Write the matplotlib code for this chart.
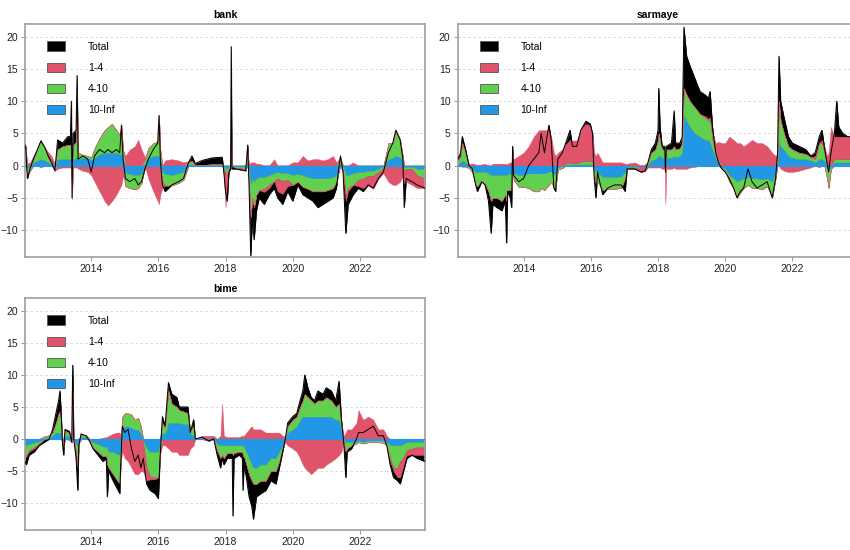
import numpy as np
import matplotlib
matplotlib.use('Agg')
import matplotlib.pyplot as plt
from matplotlib.patches import Patch

plt.rcParams['font.family'] = ['Liberation Sans', 'DejaVu Sans']

#~~~~~~~~~~~~~~~~~~~~~~~~~~~~~~~~~~~~~~~~~~~~~~~~~~~~~~~~~~~~~~~
# data (decimal years, contributions)
#~~~~~~~~~~~~~~~~~~~~~~~~~~~~~~~~~~~~~~~~~~~~~~~~~~~~~~~~~~~~~~~
labels = ['Total', '1-4', '4-10', '10-Inf']
xticks = [2014, 2016, 2018, 2020, 2022]
yticks = [-10, -5, 0, 5, 10, 15, 20]

bank_year = [2012.00, 2012.05, 2012.10, 2012.18, 2012.28, 2012.40, 2012.50, 2012.62, 2012.72, 2012.82,
             2012.92, 2013.00, 2013.15, 2013.30, 2013.38, 2013.41, 2013.43, 2013.46, 2013.55, 2013.58,
             2013.61, 2013.75, 2013.90, 2014.00, 2014.10, 2014.25, 2014.40, 2014.50, 2014.62, 2014.75,
             2014.85, 2014.90, 2014.95, 2015.02, 2015.15, 2015.30, 2015.40, 2015.50, 2015.60, 2015.70,
             2015.85, 2015.98, 2016.02, 2016.06, 2016.12, 2016.20, 2016.40, 2016.60, 2016.75, 2016.90,
             2017.00, 2017.10, 2017.30, 2017.60, 2017.90, 2017.95, 2018.00, 2018.05, 2018.10, 2018.15,
             2018.17, 2018.19, 2018.30, 2018.60, 2018.66, 2018.70, 2018.75, 2018.80, 2018.85, 2018.92,
             2019.00, 2019.15, 2019.30, 2019.45, 2019.55, 2019.70, 2019.85, 2020.00, 2020.15, 2020.30,
             2020.45, 2020.60, 2020.75, 2020.90, 2021.05, 2021.20, 2021.30, 2021.42, 2021.50, 2021.58,
             2021.65, 2021.80, 2021.95, 2022.10, 2022.25, 2022.40, 2022.55, 2022.70, 2022.85, 2022.98,
             2023.07, 2023.20, 2023.28, 2023.32, 2023.38, 2023.55, 2023.70, 2023.94]
bank_total = [3.5, 3.0, -2.0, -0.5, 1.0, 2.5, 3.8, 2.8, 1.5, 0.5,
              -0.8, 4.0, 3.5, 4.5, 4.5, 10.0, -5.0, 5.0, 5.5, 14.0,
              1.0, 1.5, 1.0, -1.0, 1.5, 2.5, 2.0, 2.5, 2.0, 2.5,
              2.0, 6.3, 1.0, -2.0, -2.5, -2.0, -3.0, -2.5, -0.5, 1.0,
              2.5, 3.5, 7.8, 1.0, -3.0, -4.0, -3.0, -2.5, -2.0, 0.5,
              1.5, 0.3, 0.8, 1.2, 1.3, -1.0, -4.0, -5.5, -1.0, -0.5,
              18.5, -0.5, -0.5, -0.8, 3.2, -3.0, -14.0, -8.0, -11.5, -7.0,
              -5.0, -6.0, -4.5, -3.5, -5.0, -6.0, -4.0, -5.5, -3.0, -4.5,
              -5.0, -5.5, -6.5, -6.0, -5.5, -5.0, -3.5, 1.5, -1.0, -10.5,
              -6.0, -4.5, -3.5, -4.0, -3.0, -3.5, -2.0, -1.0, 2.0, 3.5,
              5.5, 4.0, 1.0, -6.5, -2.0, -2.5, -3.0, -3.5]
bank_r14 = [0.3, 0.5, 0.3, 0.5, 0.5, 0.0, -0.3, 0.0, 0.8, 1.0,
            0.3, -0.5, -0.3, -0.3, -0.3, -0.3, -0.3, -0.3, -0.3, -0.3,
            -0.5, -0.8, -1.0, -1.5, -2.5, -4.0, -5.5, -6.2, -5.5, -4.5,
            -3.5, -3.0, -1.5, 1.5, 2.5, 3.0, 4.0, 2.5, 0.5, -2.0,
            -4.0, -5.5, -6.0, -4.5, -1.0, 0.8, 1.0, 0.8, 0.5, 0.2,
            0.0, 0.0, 0.0, 0.0, 0.0, -1.0, -5.5, -2.0, -0.3, 0.0,
            3.0, 0.0, -0.2, -0.2, 0.3, 0.0, 0.5, 0.5, 0.5, 0.3,
            0.3, -0.5, -0.5, 1.0, -2.0, -2.0, -1.0, 0.5, 0.5, 1.5,
            0.8, 1.0, 1.0, 0.8, 1.0, 1.5, 0.5, 0.0, -0.5, -1.0,
            -0.5, 0.5, -1.0, -1.5, -1.5, -2.0, -1.0, -0.8, -2.5, -3.0,
            -3.0, -2.5, -1.5, -2.0, -2.0, -2.5, -2.0, -1.5]
bank_g410 = [1.8, 1.5, -1.0, -0.5, 0.5, 2.0, 3.0, 2.0, 0.8, 0.2,
             -0.5, 1.5, 2.0, 2.2, 2.2, 2.5, -4.5, 2.2, 2.5, 10.0,
             1.0, 0.5, 0.3, 0.3, 1.5, 2.5, 3.5, 4.0, 4.5, 3.5,
             3.0, 4.5, 1.5, -2.0, -2.2, -2.2, -2.0, -1.5, 0.5, 1.5,
             2.0, 2.2, 6.3, 1.5, -1.5, -1.8, -1.6, -1.5, -1.2, 0.3,
             0.5, 0.1, 0.1, 0.1, 0.2, -0.3, -0.5, -1.0, -0.3, 0.0,
             5.0, 0.0, -0.2, -0.3, 1.5, -2.0, -5.0, -3.0, -4.0, -2.5,
             -2.0, -1.8, -1.5, -1.2, -1.0, -1.2, -1.0, -1.5, -1.2, -1.8,
             -1.8, -2.0, -2.0, -2.0, -1.8, -1.7, -1.0, 1.0, -0.5, -3.0,
             -2.0, -1.8, -1.2, -1.0, -0.8, -0.8, -0.5, -0.2, 2.5, 2.3,
             4.0, 2.7, 1.0, -0.5, -0.3, -0.3, -1.0, -1.5]
bank_b10 = [1.0, 0.8, -0.5, -0.3, 0.5, 0.8, 1.0, 0.8, 0.5, 0.3,
            -0.3, 1.0, 1.0, 1.0, 1.0, 1.0, -0.5, 1.0, 1.2, 1.5,
            1.0, 1.2, 1.2, 1.0, 1.2, 1.8, 2.0, 2.0, 2.0, 2.0,
            1.8, 1.8, 1.0, -1.2, -1.3, -1.5, -1.5, -1.2, 0.3, 1.2,
            1.5, 1.5, 1.5, 1.0, -1.0, -1.3, -1.5, -1.2, -1.0, 0.2,
            0.2, 0.0, 0.0, 0.1, 0.1, -0.2, -0.5, -0.5, -0.2, 0.0,
            0.5, 0.0, -0.1, -0.2, 0.5, -0.8, -3.0, -2.0, -2.5, -2.0,
            -1.8, -1.8, -1.5, -1.2, -1.0, -1.2, -1.2, -1.5, -1.3, -1.5,
            -1.8, -2.0, -2.0, -2.0, -2.0, -1.8, -1.5, 0.3, -0.2, -1.5,
            -1.5, -1.2, -1.0, -1.0, -0.8, -0.8, -0.5, -0.2, 1.0, 1.2,
            1.5, 1.3, 0.5, -0.3, -0.2, -0.2, -0.5, -0.5]

sarm_year = [2012.03, 2012.12, 2012.17, 2012.27, 2012.37, 2012.47, 2012.57, 2012.62, 2012.75, 2012.85,
             2012.95, 2013.03, 2013.08, 2013.20, 2013.35, 2013.45, 2013.49, 2013.52, 2013.60, 2013.64,
             2013.67, 2013.70, 2013.85, 2014.00, 2014.15, 2014.30, 2014.45, 2014.52, 2014.62, 2014.75,
             2014.82, 2014.90, 2014.95, 2015.02, 2015.15, 2015.25, 2015.38, 2015.45, 2015.58, 2015.70,
             2015.85, 2015.98, 2016.05, 2016.10, 2016.15, 2016.20, 2016.35, 2016.50, 2016.70, 2016.90,
             2017.02, 2017.08, 2017.30, 2017.50, 2017.62, 2017.70, 2017.80, 2017.92, 2018.00, 2018.02,
             2018.06, 2018.12, 2018.20, 2018.22, 2018.25, 2018.40, 2018.48, 2018.52, 2018.65, 2018.72,
             2018.77, 2018.85, 2018.95, 2019.10, 2019.25, 2019.40, 2019.50, 2019.55, 2019.62, 2019.72,
             2019.80, 2019.90, 2020.00, 2020.12, 2020.25, 2020.35, 2020.45, 2020.55, 2020.68, 2020.80,
             2020.95, 2021.10, 2021.25, 2021.40, 2021.50, 2021.56, 2021.60, 2021.65, 2021.75, 2021.88,
             2022.00, 2022.20, 2022.40, 2022.55, 2022.68, 2022.80, 2022.88, 2022.95, 2023.03, 2023.08,
             2023.15, 2023.25, 2023.32, 2023.38, 2023.50, 2023.65, 2023.94]
sarm_total = [0.8, 2.0, 4.5, 2.5, 0.0, -0.5, -3.0, -4.0, -2.5, -3.0,
              -5.5, -10.5, -6.0, -6.5, -7.0, -5.5, -12.0, -4.0, -5.0, -6.5,
              3.0, -1.5, -2.5, -2.0, 0.0, 1.0, 2.0, 5.0, 2.0, 6.3,
              4.0, -3.5, -4.0, 1.0, 2.0, 3.5, 5.5, 3.0, 3.0, 5.5,
              6.9, 6.5, 5.0, -2.0, -5.0, -1.0, -4.5, -3.5, -3.0, -3.0,
              -4.0, -0.5, -0.5, -1.0, -0.8, 0.5, 2.5, 3.5, 5.5, 12.0,
              6.0, 3.0, 3.0, -1.0, 3.0, 3.5, 8.5, 3.5, 3.5, 4.5,
              21.5, 17.0, 15.5, 13.5, 11.5, 11.0, 10.5, 11.5, 6.0, 2.0,
              0.5, -0.5, -1.0, -2.0, -3.5, -5.0, -4.0, -3.5, -0.5, -2.5,
              -3.5, -3.0, -2.5, -5.0, -2.0, 2.0, 17.0, 10.0, 7.5, 4.5,
              3.5, 3.0, 2.5, 1.5, 2.0, 4.5, 5.5, 3.0, 0.5, -1.0,
              2.0, 5.0, 10.0, 6.0, 5.0, 4.5, 4.5]
sarm_r14 = [0.3, 0.0, -0.2, -0.2, 0.3, 0.3, 0.2, 0.0, 0.2, 0.3,
            0.0, 0.0, 0.3, 0.3, 0.3, 0.3, 0.2, 0.3, 0.5, 0.5,
            1.0, 1.0, 1.5, 2.0, 3.0, 4.5, 5.5, 5.5, 5.5, 5.5,
            4.5, 2.0, 1.5, 2.0, 2.5, 3.0, 3.5, 3.5, 3.5, 5.0,
            5.8, 5.5, 4.5, 2.0, 1.5, 2.0, 0.5, 0.5, 0.5, 0.5,
            0.3, 0.3, 0.5, -0.8, -0.8, -0.3, -0.3, -0.3, -0.3, -0.3,
            -0.3, -0.5, -0.5, -6.0, -0.5, -0.5, -0.3, -0.5, -0.5, -0.5,
            -0.5, -0.5, -0.3, -0.2, 0.0, 0.2, 0.3, 0.5, 1.0, 2.0,
            3.0, 3.5, 3.5, 4.5, 4.0, 3.5, 3.5, 3.0, 3.5, 4.0,
            3.5, 3.5, 3.0, 2.0, 1.5, 0.5, 0.0, -0.5, -0.8, -1.0,
            -1.0, -0.8, -0.5, -0.3, 0.5, -0.3, 0.5, 1.0, 1.5, 2.0,
            6.0, 3.5, 3.5, 3.5, 3.5, 3.5, 3.5]
sarm_g410 = [0.3, 1.0, 2.7, 1.5, -0.2, -0.5, -2.0, -2.2, -1.5, -1.8,
             -2.8, -4.0, -3.5, -3.5, -4.0, -3.0, -4.0, -2.5, -2.5, -2.5,
             0.5, -1.0, -1.8, -1.8, -2.2, -2.7, -2.7, -2.3, -2.5, -2.0,
             -1.5, -2.2, -2.2, -0.3, -0.2, 0.2, 0.3, 0.2, 0.2, 0.4,
             0.5, 0.5, 0.4, -0.8, -2.0, -1.5, -2.0, -1.8, -1.8, -1.8,
             -1.0, -0.3, -0.2, 0.0, 0.2, 0.3, 1.2, 1.5, 2.5, 3.5,
             2.5, 1.3, 1.3, 0.5, 1.3, 1.3, 1.5, 1.2, 1.2, 1.5,
             4.0, 4.0, 4.0, 4.0, 3.5, 3.5, 3.0, 3.5, 1.5, 0.5,
             0.2, -0.2, -0.3, -1.0, -1.5, -2.5, -2.0, -1.5, -1.2, -1.5,
             -1.5, -1.5, -1.2, -2.5, -1.0, 0.8, 6.0, 4.0, 2.5, 1.5,
             1.3, 1.0, 0.8, 0.5, 0.5, 2.5, 2.5, 1.2, -1.5, -2.5,
             -0.3, 0.5, 0.5, 0.5, 0.5, 0.5, 0.5]
sarm_b10 = [0.3, 0.5, 0.8, 0.5, -0.2, -0.5, -1.0, -1.0, -1.0, -1.0,
            -1.2, -1.5, -1.5, -1.5, -1.5, -1.5, -1.5, -1.3, -1.3, -1.3,
            0.2, -1.2, -1.5, -1.5, -1.3, -1.3, -1.3, -1.2, -1.3, -1.0,
            -1.0, -1.3, -1.3, -0.3, -0.2, 0.1, 0.2, 0.2, 0.2, 0.2,
            0.2, 0.2, 0.2, -0.5, -1.0, -1.0, -1.8, -1.8, -1.8, -1.7,
            -1.0, -0.3, -0.2, -0.1, 0.0, 0.2, 0.8, 1.0, 1.5, 1.5,
            1.5, 1.2, 1.2, 0.5, 1.2, 1.2, 1.5, 1.3, 1.5, 2.0,
            8.0, 7.0, 6.0, 5.0, 4.5, 4.0, 4.0, 3.5, 2.5, 1.0,
            0.5, -0.3, -0.5, -1.5, -2.0, -2.5, -2.2, -2.0, -1.8, -2.0,
            -2.0, -2.2, -2.0, -2.5, -1.0, 0.5, 4.0, 3.0, 2.5, 1.5,
            1.2, 1.0, 1.0, 0.8, 0.5, 1.0, 1.0, 0.8, -0.5, -1.0,
            -0.2, 0.5, 0.5, 0.5, 0.5, 0.5, 0.5]

bime_year = [2012.03, 2012.07, 2012.15, 2012.30, 2012.45, 2012.60, 2012.75, 2012.85, 2012.95, 2013.03,
             2013.07, 2013.10, 2013.15, 2013.18, 2013.22, 2013.35, 2013.42, 2013.45, 2013.48, 2013.55,
             2013.60, 2013.63, 2013.70, 2013.85, 2013.95, 2014.05, 2014.20, 2014.35, 2014.45, 2014.48,
             2014.52, 2014.65, 2014.75, 2014.85, 2014.88, 2014.93, 2015.00, 2015.10, 2015.20, 2015.30,
             2015.40, 2015.48, 2015.55, 2015.65, 2015.75, 2015.90, 2016.00, 2016.05, 2016.12, 2016.20,
             2016.30, 2016.40, 2016.55, 2016.62, 2016.75, 2016.88, 2016.95, 2017.05, 2017.10, 2017.30,
             2017.50, 2017.65, 2017.75, 2017.85, 2017.90, 2017.95, 2018.05, 2018.20, 2018.22, 2018.25,
             2018.40, 2018.50, 2018.52, 2018.55, 2018.62, 2018.70, 2018.78, 2018.83, 2018.92, 2019.05,
             2019.20, 2019.35, 2019.50, 2019.60, 2019.70, 2019.78, 2019.85, 2020.00, 2020.12, 2020.22,
             2020.30, 2020.36, 2020.45, 2020.55, 2020.65, 2020.75, 2020.90, 2021.00, 2021.15, 2021.28,
             2021.38, 2021.45, 2021.52, 2021.58, 2021.62, 2021.75, 2021.90, 2021.96, 2022.10, 2022.25,
             2022.40, 2022.55, 2022.70, 2022.80, 2022.90, 2023.00, 2023.12, 2023.20, 2023.30, 2023.40,
             2023.55, 2023.70, 2023.94]
bime_total = [-3.5, -4.0, -2.5, -2.0, -1.0, -0.5, 0.0, 1.5, 4.0, 6.0,
              7.5, 4.5, -1.0, -2.5, 1.5, 1.2, -0.5, 11.5, 0.0, -3.0,
              -8.0, -1.0, 0.8, 0.5, -0.3, -1.5, -2.5, -3.5, -3.0, -9.0,
              -5.0, -6.5, -7.5, -8.5, -4.0, 2.0, 1.0, 1.5, -1.5, -3.5,
              -2.5, -4.5, -3.0, -7.0, -8.0, -8.5, -9.3, -3.0, 3.5, 2.0,
              8.8, 7.0, 6.5, 5.0, 5.0, 5.0, 1.0, 3.0, 0.0, 0.3,
              -0.3, 0.0, -2.5, -4.5, -3.0, -4.0, -3.0, -3.0, -12.0, -3.0,
              -2.5, -3.0, -8.0, -4.0, -6.0, -9.0, -10.5, -12.5, -9.0, -8.5,
              -8.0, -6.5, -7.0, -4.5, -2.0, 0.0, 2.5, 3.5, 4.0, 6.0,
              7.5, 10.0, 8.0, 6.5, 6.0, 7.5, 7.0, 8.0, 7.5, 6.0,
              9.0, 3.0, -0.5, -6.0, -2.0, -1.5, 0.0, 1.0, 1.0, 1.5,
              2.0, 0.5, 0.5, -1.0, -4.0, -6.0, -6.5, -7.0, -5.0, -3.0,
              -2.5, -3.0, -3.5]
bime_r14 = [-0.3, -0.3, -0.2, -0.2, -0.3, 0.0, 0.0, 0.0, 0.0, 0.0,
            0.5, 0.0, 0.0, 0.0, 0.0, -0.2, 0.0, 0.0, 0.0, 0.0,
            0.0, 0.0, 0.0, 0.0, -0.2, 0.0, 0.0, 0.2, 0.3, 0.3,
            0.5, 0.8, 1.0, 1.0, 0.5, -2.0, -3.0, -3.5, -4.5, -5.5,
            -5.5, -5.0, -4.5, -2.0, -0.5, -0.3, 0.0, -0.5, -1.0, -1.0,
            -1.5, -2.0, -2.0, -2.5, -2.5, -2.5, -1.5, -1.0, 0.0, 0.5,
            0.5, 0.5, 0.0, 0.5, 5.5, 0.5, 0.3, 0.3, 0.3, 0.3,
            0.3, 0.5, 0.5, 0.5, 1.0, 1.5, 2.0, 1.5, 1.5, 1.5,
            1.0, 1.0, 1.0, 1.0, 0.5, -0.5, -1.0, -1.5, -2.0, -3.0,
            -4.0, -4.5, -5.0, -5.5, -5.0, -4.5, -4.5, -4.0, -3.5, -3.0,
            -2.5, -2.0, 0.5, 1.0, 1.5, 1.5, 2.5, 4.5, 3.0, 3.5,
            3.0, 1.5, 1.5, 0.5, -0.5, -0.5, -1.5, -2.5, -1.5, -0.8,
            -1.0, -1.2, -1.2]
bime_g410 = [-1.5, -1.5, -1.0, -0.7, -0.3, 0.2, 0.3, 0.5, 1.5, 3.0,
             3.0, 2.0, -0.3, -0.8, 0.8, 0.5, -0.3, 6.0, 0.0, -1.2,
             -3.5, -0.5, 0.4, 0.3, 0.0, -0.8, -1.2, -1.5, -1.5, -2.5,
             -2.5, -3.5, -4.0, -4.5, -2.0, 2.0, 2.0, 2.0, 2.0, 1.5,
             1.8, 1.0, -0.3, -3.0, -3.8, -4.0, -4.0, -1.5, 1.5, 1.0,
             5.0, 3.0, 2.5, 2.0, 2.0, 1.7, 0.5, 1.5, 0.0, 0.0,
             -0.2, 0.0, -1.0, -2.0, -1.5, -2.0, -1.2, -1.2, -1.5, -1.2,
             -1.0, -1.0, -1.5, -1.5, -2.0, -2.5, -2.5, -2.5, -2.5, -2.5,
             -2.5, -2.0, -2.0, -1.5, -0.5, 0.2, 1.0, 1.5, 1.5, 2.0,
             2.5, 3.5, 3.0, 2.5, 2.0, 2.5, 2.5, 3.0, 2.5, 2.0,
             2.5, 1.0, -0.3, -1.5, -1.0, -0.5, -0.2, -0.2, -0.2, -0.2,
             -0.2, -0.2, -0.3, -0.5, -2.0, -3.5, -3.5, -2.5, -2.0, -1.2,
             -1.0, -0.8, -0.8]
bime_b10 = [-1.0, -1.0, -0.8, -0.6, -0.4, 0.2, 0.3, 0.5, 1.0, 1.0,
            1.0, 1.0, -0.2, -0.5, 0.5, 0.4, -0.2, 1.5, 0.0, -0.8,
            -1.0, -0.2, 0.3, 0.3, 0.0, -0.5, -0.8, -1.2, -1.2, -1.5,
            -2.0, -2.0, -2.3, -2.5, -1.5, 1.5, 2.0, 2.0, 1.8, 1.5,
            1.5, 1.0, -0.3, -1.5, -2.0, -2.0, -2.0, -0.5, 1.0, 0.8,
            2.5, 2.5, 2.5, 2.5, 2.3, 2.3, 0.8, 0.5, 0.0, 0.0,
            -0.1, 0.0, -0.8, -1.0, -1.0, -1.0, -1.0, -1.0, -1.0, -1.0,
            -1.0, -1.0, -1.2, -1.2, -2.0, -3.0, -4.0, -4.5, -4.5, -4.0,
            -4.0, -3.0, -3.0, -2.0, -1.0, 0.2, 1.0, 1.5, 2.0, 3.0,
            3.5, 3.5, 3.5, 3.5, 3.5, 3.5, 3.5, 3.5, 3.5, 3.0,
            3.0, 1.5, -0.2, -0.5, -0.5, -0.5, -0.5, -0.3, -0.5, -0.3,
            -0.3, -0.3, -0.3, -0.5, -1.0, -1.0, -1.0, -1.0, -0.8, -0.5,
            -0.5, -0.5, -0.5]

# R default palette colours
col_tot = 'black'
col_r14 = '#DF536B'
col_g410 = '#61D04F'
col_b10 = '#2297E6'


#~~~~~~~~~~~~~~~~~~~~~~~~~~~~~~~~~~~~~~~~~~~~~~~~~~~~~~~~~~~~~~~
# // plot_panel //
# total as black area + line, buckets stacked (pos up, neg down)
# stacking order from zero: 10-Inf, 4-10, 1-4
#~~~~~~~~~~~~~~~~~~~~~~~~~~~~~~~~~~~~~~~~~~~~~~~~~~~~~~~~~~~~~~~
def plot_panel(ax, title, year, total, r14, g410, b10):

    x = np.array(year)
    tot = np.array(total)

    for yv in yticks:
        ax.axhline(yv, color='#d6d6d6', lw=0.6, ls=(0, (3, 3)), zorder=0)

    ax.fill_between(x, 0, tot, color=col_tot, lw=0.3, zorder=1)

    pos_base = np.zeros(len(x))
    neg_base = np.zeros(len(x))
    for vals, col in [(b10, col_b10), (g410, col_g410), (r14, col_r14)]:
        v = np.array(vals)
        pos = np.clip(v, 0, None)
        neg = np.clip(v, None, 0)
        ax.fill_between(x, pos_base, pos_base + pos, color=col, lw=0.3, zorder=2)
        ax.fill_between(x, neg_base, neg_base + neg, color=col, lw=0.3, zorder=2)
        pos_base = pos_base + pos
        neg_base = neg_base + neg

    ax.axhline(0, color=col_b10, lw=0.8, zorder=3)
    ax.plot(x, tot, color='black', lw=0.7, zorder=4)

    ax.set_xlim(2012.03, 2023.94)
    ax.set_ylim(-14.2, 22.0)
    ax.set_xticks(xticks)
    ax.set_yticks(yticks)
    ax.tick_params(labelsize=7.5, length=3, width=0.6, color='#888888', labelcolor='#222222', pad=2)
    for s in ax.spines.values():
        s.set_color('#a0a0a0')
        s.set_linewidth(1.2)
    ax.set_title(title, fontsize=7.5, fontweight='bold', pad=4)

    handles = [Patch(facecolor=c, edgecolor='#555555', linewidth=0.6)
               for c in [col_tot, col_r14, col_g410, col_b10]]
    ax.legend(handles, labels, loc='upper left', bbox_to_anchor=(0.055, 0.925),
              frameon=False, fontsize=7.5, handlelength=1.75, handleheight=1.0,
              handletextpad=2.2, labelspacing=1.05, borderaxespad=0, borderpad=0)


fig = plt.figure(figsize=(8.5, 5.5), dpi=100)
W, H = 850.0, 550.0
ax1 = fig.add_axes([25 / W, 1 - 257 / H, 400 / W, 233 / H])
ax2 = fig.add_axes([457.5 / W, 1 - 257 / H, 400 / W, 233 / H])
ax3 = fig.add_axes([25 / W, 1 - 530 / H, 400 / W, 232 / H])

plot_panel(ax1, 'bank', bank_year, bank_total, bank_r14, bank_g410, bank_b10)
plot_panel(ax2, 'sarmaye', sarm_year, sarm_total, sarm_r14, sarm_g410, sarm_b10)
plot_panel(ax3, 'bime', bime_year, bime_total, bime_r14, bime_g410, bime_b10)

fig.savefig('out.png', dpi=100)
